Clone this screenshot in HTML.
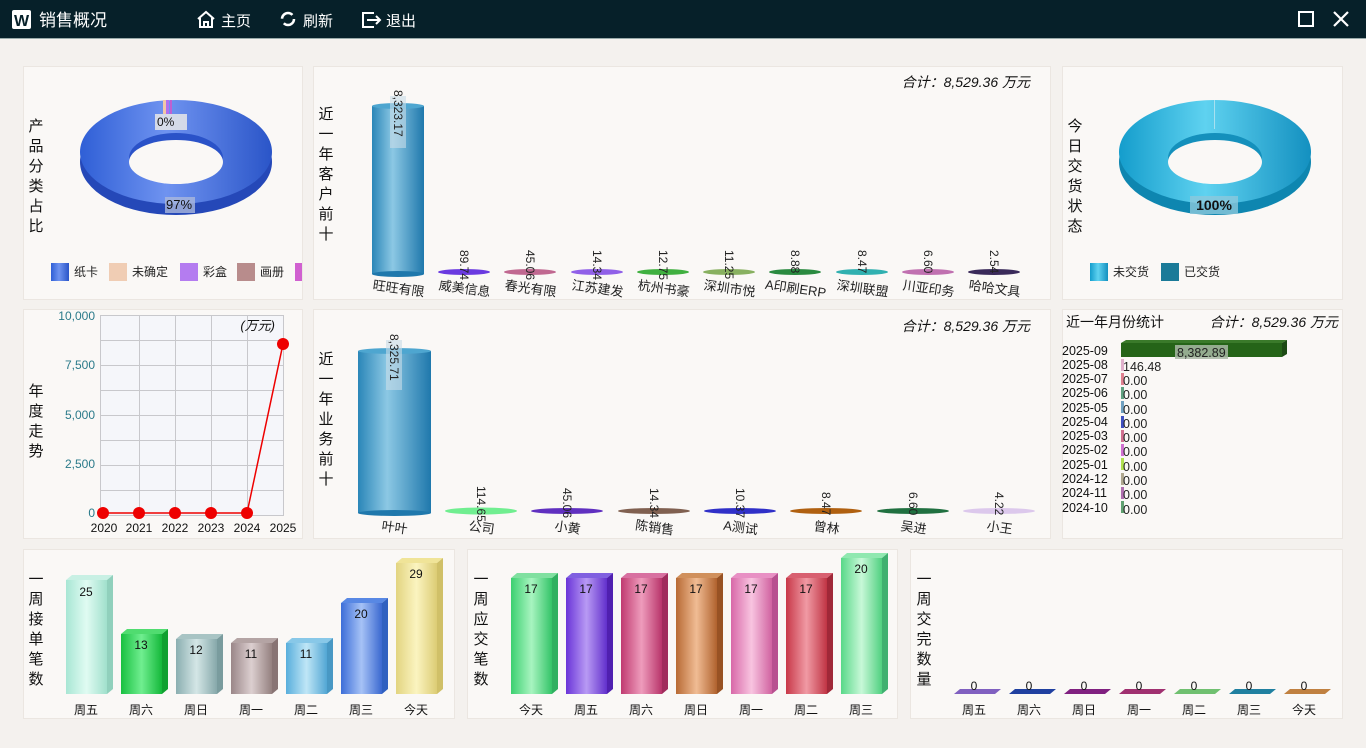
<!DOCTYPE html>
<html><head><meta charset="utf-8"><style>
html,body{margin:0;padding:0;width:1366px;height:748px;overflow:hidden;background:#f4f1ee;}
svg{display:block;font-family:"Liberation Sans","Noto Sans CJK SC",sans-serif;}
</style></head><body>
<svg width="1366" height="748" viewBox="0 0 1366 748">
<defs>
<linearGradient id="blue" x1="0" x2="1"><stop offset="0" stop-color="#2f5fd6"/><stop offset="0.45" stop-color="#6f93f0"/><stop offset="1" stop-color="#2a55c8"/></linearGradient>
<linearGradient id="cyan" x1="0" x2="1"><stop offset="0" stop-color="#149dcc"/><stop offset="0.45" stop-color="#5fd2f0"/><stop offset="1" stop-color="#1390c0"/></linearGradient>
<linearGradient id="cyl" x1="0" x2="1"><stop offset="0" stop-color="#2a86b8"/><stop offset="0.4" stop-color="#8cc8e4"/><stop offset="1" stop-color="#1f78ac"/></linearGradient>
<linearGradient id="g1" x1="0" x2="1"><stop offset="0" stop-color="#a8e6d4"/><stop offset=".5" stop-color="#e0fbf2"/><stop offset="1" stop-color="#a0e0cc"/></linearGradient>
<linearGradient id="g2" x1="0" x2="1"><stop offset="0" stop-color="#18c040"/><stop offset=".5" stop-color="#70ee90"/><stop offset="1" stop-color="#14b83a"/></linearGradient>
<linearGradient id="g3" x1="0" x2="1"><stop offset="0" stop-color="#8aaeb0"/><stop offset=".5" stop-color="#d4e6e6"/><stop offset="1" stop-color="#86a8aa"/></linearGradient>
<linearGradient id="g4" x1="0" x2="1"><stop offset="0" stop-color="#9a8688"/><stop offset=".5" stop-color="#dccfd0"/><stop offset="1" stop-color="#94807f"/></linearGradient>
<linearGradient id="g5" x1="0" x2="1"><stop offset="0" stop-color="#58aedc"/><stop offset=".5" stop-color="#bfe6f6"/><stop offset="1" stop-color="#52a6d4"/></linearGradient>
<linearGradient id="g6" x1="0" x2="1"><stop offset="0" stop-color="#3c6ed8"/><stop offset=".5" stop-color="#a6c2f6"/><stop offset="1" stop-color="#3a68d0"/></linearGradient>
<linearGradient id="g7" x1="0" x2="1"><stop offset="0" stop-color="#e2d480"/><stop offset=".5" stop-color="#fbf4c0"/><stop offset="1" stop-color="#dccc74"/></linearGradient>
<linearGradient id="h1" x1="0" x2="1"><stop offset="0" stop-color="#3cd070"/><stop offset=".5" stop-color="#a8f4c0"/><stop offset="1" stop-color="#34c468"/></linearGradient>
<linearGradient id="h2" x1="0" x2="1"><stop offset="0" stop-color="#6a34d8"/><stop offset=".5" stop-color="#b89af4"/><stop offset="1" stop-color="#6230cc"/></linearGradient>
<linearGradient id="h3" x1="0" x2="1"><stop offset="0" stop-color="#c03a70"/><stop offset=".5" stop-color="#ee9cbc"/><stop offset="1" stop-color="#b8346a"/></linearGradient>
<linearGradient id="h4" x1="0" x2="1"><stop offset="0" stop-color="#b86a34"/><stop offset=".5" stop-color="#f0bc94"/><stop offset="1" stop-color="#b0622e"/></linearGradient>
<linearGradient id="h5" x1="0" x2="1"><stop offset="0" stop-color="#d868a8"/><stop offset=".5" stop-color="#f8c4e0"/><stop offset="1" stop-color="#d062a0"/></linearGradient>
<linearGradient id="h6" x1="0" x2="1"><stop offset="0" stop-color="#c83848"/><stop offset=".5" stop-color="#f09aa4"/><stop offset="1" stop-color="#c03444"/></linearGradient>
<linearGradient id="h7" x1="0" x2="1"><stop offset="0" stop-color="#58d888"/><stop offset=".5" stop-color="#c8f8d8"/><stop offset="1" stop-color="#50d080"/></linearGradient>
</defs>
<!-- header -->
<rect x="0" y="0" width="1366" height="38" fill="#062029"/>
<rect x="0" y="38" width="1366" height="1" fill="#9aa"/>
<rect x="12" y="10" width="19" height="19" fill="#fff" rx="2"/><text x="21.5" y="26" font-size="16" font-weight="bold" text-anchor="middle" fill="#062029">W</text>
<text x="39" y="26" font-size="17" fill="#fff">销售概况</text>
<path d="M198 19 L206 12 L214 19 M200 18 V27 H212 V18 M204 27 V22 H208 V27" stroke="#fff" stroke-width="2" fill="none"/>
<text x="221" y="26" font-size="15" fill="#fff">主页</text>
<circle cx="288" cy="19" r="6" stroke="#fff" stroke-width="2.5" fill="none" stroke-dasharray="14 5"/>
<text x="303" y="26" font-size="15" fill="#fff">刷新</text>
<path d="M374 13 H363 V27 H374 M367 20 H380 M376 16 L380 20 L376 24" stroke="#fff" stroke-width="2" fill="none"/>
<text x="386" y="26" font-size="15" fill="#fff">退出</text>
<rect x="1299" y="12" width="14" height="14" stroke="#fff" stroke-width="2" fill="none"/>
<path d="M1334 12 L1348 26 M1348 12 L1334 26" stroke="#fff" stroke-width="2.2"/>

<!-- panels -->
<g fill="#faf8f6" stroke="#ebe6e1">
<rect x="23.5" y="66.5" width="279" height="233"/><rect x="313.5" y="66.5" width="737" height="233"/><rect x="1062.5" y="66.5" width="280" height="233"/>
<rect x="23.5" y="309.5" width="279" height="229"/><rect x="313.5" y="309.5" width="737" height="229"/><rect x="1062.5" y="309.5" width="280" height="229"/>
<rect x="23.5" y="549.5" width="431" height="169"/><rect x="467.5" y="549.5" width="430" height="169"/><rect x="910.5" y="549.5" width="432" height="169"/>
</g>

<!-- vertical titles -->
<g font-size="15" fill="#111" text-anchor="middle">
<text x="36" y="131">产</text><text x="36" y="151">品</text><text x="36" y="171">分</text><text x="36" y="191">类</text><text x="36" y="211">占</text><text x="36" y="231">比</text>
<text x="326" y="119">近</text><text x="326" y="139">一</text><text x="326" y="159">年</text><text x="326" y="179">客</text><text x="326" y="199">户</text><text x="326" y="219">前</text><text x="326" y="239">十</text>
<text x="1075" y="131">今</text><text x="1075" y="151">日</text><text x="1075" y="171">交</text><text x="1075" y="191">货</text><text x="1075" y="211">状</text><text x="1075" y="231">态</text>
<text x="36" y="396">年</text><text x="36" y="416">度</text><text x="36" y="436">走</text><text x="36" y="456">势</text>
<text x="326" y="364">近</text><text x="326" y="384">一</text><text x="326" y="404">年</text><text x="326" y="424">业</text><text x="326" y="444">务</text><text x="326" y="464">前</text><text x="326" y="484">十</text>
<text x="36" y="584">一</text><text x="36" y="604">周</text><text x="36" y="624">接</text><text x="36" y="644">单</text><text x="36" y="664">笔</text><text x="36" y="684">数</text>
<text x="481" y="584">一</text><text x="481" y="604">周</text><text x="481" y="624">应</text><text x="481" y="644">交</text><text x="481" y="664">笔</text><text x="481" y="684">数</text>
<text x="924" y="584">一</text><text x="924" y="604">周</text><text x="924" y="624">交</text><text x="924" y="644">完</text><text x="924" y="664">数</text><text x="924" y="684">量</text>
</g>

<!-- donut 1 -->
<ellipse cx="176" cy="162" rx="96" ry="53" fill="#2548b8"/>
<ellipse cx="176" cy="152" rx="96" ry="52" fill="url(#blue)"/>
<ellipse cx="176" cy="158" rx="47" ry="25" fill="#2a52c8"/>
<ellipse cx="176" cy="162" rx="47" ry="22" fill="#faf8f6"/>
<rect x="163" y="100" width="3" height="14" fill="#f0c8a8"/><rect x="166" y="100" width="3" height="14" fill="#b070f0"/><rect x="170" y="100" width="2" height="14" fill="#c060d0"/>
<rect x="155" y="114" width="32" height="16" fill="#e8e8e8" opacity=".85"/>
<text x="157" y="126" font-size="12" fill="#111">0%</text>
<rect x="165" y="197" width="30" height="16" fill="#aab8dc" opacity=".8"/>
<text x="166" y="209" font-size="13" fill="#111">97%</text>
<g font-size="12" fill="#222">
<rect x="51" y="263" width="18" height="18" fill="url(#blue)"/><text x="74" y="276">纸卡</text>
<rect x="109" y="263" width="18" height="18" fill="#f0cdb4"/><text x="132" y="276">未确定</text>
<rect x="180" y="263" width="18" height="18" fill="#b47cf0"/><text x="203" y="276">彩盒</text>
<rect x="237" y="263" width="18" height="18" fill="#b88c8c"/><text x="260" y="276">画册</text>
<rect x="295" y="263" width="7" height="18" fill="#d060d0"/>
</g>

<!-- donut 3 -->
<ellipse cx="1215" cy="162" rx="96" ry="53" fill="#0e86b0"/>
<ellipse cx="1215" cy="152" rx="96" ry="52" fill="url(#cyan)"/>
<ellipse cx="1215" cy="158" rx="47" ry="25" fill="#1490bc"/>
<ellipse cx="1215" cy="162" rx="47" ry="22" fill="#faf8f6"/>
<rect x="1214" y="100" width="1" height="29" fill="#a8e0f0"/>
<rect x="1190" y="196" width="48" height="18" fill="#8cc8dc" opacity=".8"/>
<text x="1214" y="210" font-size="14" font-weight="bold" text-anchor="middle" fill="#111">100%</text>
<g font-size="12" fill="#222">
<rect x="1090" y="263" width="18" height="18" fill="url(#cyan)"/><text x="1113" y="276">未交货</text>
<rect x="1161" y="263" width="18" height="18" fill="#1a7a98"/><text x="1184" y="276">已交货</text>
</g>

<!-- panel 2 -->
<text x="1030" y="87" font-size="14" font-style="italic" text-anchor="end" fill="#111">合计：8,529.36 万元</text>
<rect x="372" y="106" width="52" height="168" fill="url(#cyl)"/>
<ellipse cx="398" cy="274" rx="26" ry="3" fill="#1f78ac"/><ellipse cx="398" cy="106" rx="26" ry="3" fill="#4ea6d0"/>
<rect x="390" y="96" width="16" height="52" fill="#c8dce8" opacity=".6"/>
<text transform="translate(394,90) rotate(90)" font-size="12" fill="#222">8,323.17</text>
<g>
<ellipse cx="464" cy="272" rx="26" ry="3" fill="#6a3ae0"/>
<ellipse cx="530" cy="272" rx="26" ry="3" fill="#c06890"/>
<ellipse cx="597" cy="272" rx="26" ry="3" fill="#9060e8"/>
<ellipse cx="663" cy="272" rx="26" ry="3" fill="#40b040"/>
<ellipse cx="729" cy="272" rx="26" ry="3" fill="#88b060"/>
<ellipse cx="795" cy="272" rx="26" ry="3" fill="#2a8a40"/>
<ellipse cx="862" cy="272" rx="26" ry="3" fill="#30b0b0"/>
<ellipse cx="928" cy="272" rx="26" ry="3" fill="#c070b0"/>
<ellipse cx="994" cy="272" rx="26" ry="3" fill="#3a2a5a"/>
</g>
<g font-size="12" fill="#222">
<text transform="translate(460,250) rotate(90)">89.74</text>
<text transform="translate(526,250) rotate(90)">45.06</text>
<text transform="translate(593,250) rotate(90)">14.34</text>
<text transform="translate(659,250) rotate(90)">12.75</text>
<text transform="translate(725,250) rotate(90)">11.25</text>
<text transform="translate(791,250) rotate(90)">8.88</text>
<text transform="translate(858,250) rotate(90)">8.47</text>
<text transform="translate(924,250) rotate(90)">6.60</text>
<text transform="translate(990,250) rotate(90)">2.54</text>
</g>
<g font-size="13" fill="#222" text-anchor="middle">
<text transform="translate(398,293) rotate(8)">旺旺有限</text>
<text transform="translate(464,293) rotate(8)">威美信息</text>
<text transform="translate(530,293) rotate(8)">春光有限</text>
<text transform="translate(597,293) rotate(8)">江苏建发</text>
<text transform="translate(663,293) rotate(8)">杭州书豪</text>
<text transform="translate(729,293) rotate(8)">深圳市悦</text>
<text transform="translate(795,293) rotate(8)">A印刷ERP</text>
<text transform="translate(862,293) rotate(8)">深圳联盟</text>
<text transform="translate(928,293) rotate(8)">川亚印务</text>
<text transform="translate(994,293) rotate(8)">哈哈文具</text>
</g>

<!-- panel 5 -->
<text x="1030" y="331" font-size="14" font-style="italic" text-anchor="end" fill="#111">合计：8,529.36 万元</text>
<rect x="358" y="351" width="73" height="162" fill="url(#cyl)"/>
<ellipse cx="394.5" cy="513" rx="36.5" ry="3" fill="#1f78ac"/><ellipse cx="394.5" cy="351" rx="36.5" ry="3" fill="#4ea6d0"/>
<rect x="386" y="340" width="16" height="50" fill="#c8dce8" opacity=".6"/>
<text transform="translate(390,334) rotate(90)" font-size="12" fill="#222">8,325.71</text>
<ellipse cx="481" cy="511" rx="36" ry="3.5" fill="#70ee90"/>
<ellipse cx="567" cy="511" rx="36" ry="3" fill="#6030c0"/>
<ellipse cx="654" cy="511" rx="36" ry="3" fill="#806050"/>
<ellipse cx="740" cy="511" rx="36" ry="3" fill="#3030c8"/>
<ellipse cx="826" cy="511" rx="36" ry="3" fill="#b06010"/>
<ellipse cx="913" cy="511" rx="36" ry="3" fill="#207040"/>
<ellipse cx="999" cy="511" rx="36" ry="3" fill="#dcc8ec"/>
<g font-size="12" fill="#222">
<text transform="translate(477,486) rotate(90)">114.65</text>
<text transform="translate(563,488) rotate(90)">45.06</text>
<text transform="translate(650,488) rotate(90)">14.34</text>
<text transform="translate(736,488) rotate(90)">10.37</text>
<text transform="translate(822,492) rotate(90)">8.47</text>
<text transform="translate(909,492) rotate(90)">6.60</text>
<text transform="translate(995,492) rotate(90)">4.22</text>
</g>
<g font-size="13" fill="#222" text-anchor="middle">
<text transform="translate(394,532) rotate(8)">叶叶</text>
<text transform="translate(481,532) rotate(8)">公司</text>
<text transform="translate(567,532) rotate(8)">小黄</text>
<text transform="translate(654,532) rotate(8)">陈销售</text>
<text transform="translate(740,532) rotate(8)">A测试</text>
<text transform="translate(826,532) rotate(8)">曾林</text>
<text transform="translate(913,532) rotate(8)">吴进</text>
<text transform="translate(999,532) rotate(8)">小王</text>
</g>

<!-- line chart -->
<rect x="100" y="315" width="184" height="200" fill="#f5f6fa"/>
<g stroke="#c8c8cc" stroke-width="1">
<path d="M100 315.5H284M100 340.5H284M100 365.5H284M100 390.5H284M100 415.5H284M100 440.5H284M100 465.5H284M100 490.5H284M100 515.5H284"/>
<path d="M100.5 315V515M139.5 315V515M175.5 315V515M211.5 315V515M247.5 315V515M283.5 315V515"/>
</g>
<g font-size="12" fill="#2a7a8a" text-anchor="end">
<text x="95" y="320">10,000</text><text x="95" y="369">7,500</text><text x="95" y="419">5,000</text><text x="95" y="468">2,500</text><text x="95" y="517">0</text>
</g>
<g font-size="12" fill="#111" text-anchor="middle">
<text x="104" y="532">2020</text><text x="139" y="532">2021</text><text x="175" y="532">2022</text><text x="211" y="532">2023</text><text x="247" y="532">2024</text><text x="283" y="532">2025</text>
</g>
<text x="275" y="330" font-size="13" font-style="italic" text-anchor="end" fill="#111">(万元)</text>
<polyline points="103,513 139,513 175,513 211,513 247,513 283,344" fill="none" stroke="#e00" stroke-width="1.5"/>
<g fill="#e00"><circle cx="103" cy="513" r="6"/><circle cx="139" cy="513" r="6"/><circle cx="175" cy="513" r="6"/><circle cx="211" cy="513" r="6"/><circle cx="247" cy="513" r="6"/><circle cx="283" cy="344" r="6"/></g>

<!-- monthly -->
<text x="1066" y="327" font-size="14" fill="#111">近一年月份统计</text>
<text x="1338" y="327" font-size="14" font-style="italic" text-anchor="end" fill="#111">合计：8,529.36 万元</text>
<g font-size="12.5" fill="#111">
<text x="1062" y="355">2025-09</text><text x="1062" y="369">2025-08</text><text x="1062" y="383">2025-07</text><text x="1062" y="397">2025-06</text><text x="1062" y="412">2025-05</text><text x="1062" y="426">2025-04</text><text x="1062" y="440">2025-03</text><text x="1062" y="454">2025-02</text><text x="1062" y="469">2025-01</text><text x="1062" y="483">2024-12</text><text x="1062" y="497">2024-11</text><text x="1062" y="512">2024-10</text>
</g>
<polygon points="1121,343 1126,340 1287,340 1282,343" fill="#3a7a2a"/>
<polygon points="1282,343 1287,340 1287,354 1282,357" fill="#1c4a14"/>
<rect x="1121" y="343" width="161" height="14" fill="#256418"/>
<rect x="1175" y="345" width="53" height="14" fill="#a8b8a4" opacity=".85"/>
<text x="1177" y="357" font-size="12.5" fill="#222">8,382.89</text>
<g>
<rect x="1121" y="359" width="3" height="12" fill="#e0b0cc"/><rect x="1121" y="373" width="3" height="12" fill="#e08090"/><rect x="1121" y="387" width="3" height="12" fill="#60a080"/><rect x="1121" y="401" width="3" height="12" fill="#70a0c0"/><rect x="1121" y="416" width="3" height="12" fill="#4050c0"/><rect x="1121" y="430" width="3" height="12" fill="#d07090"/><rect x="1121" y="444" width="3" height="12" fill="#d070d0"/><rect x="1121" y="458" width="3" height="12" fill="#b0e050"/><rect x="1121" y="473" width="3" height="12" fill="#b0a890"/><rect x="1121" y="487" width="3" height="12" fill="#b070b0"/><rect x="1121" y="501" width="3" height="12" fill="#60a070"/>
</g>
<g font-size="12.5" fill="#222">
<text x="1123" y="371">146.48</text><text x="1123" y="385">0.00</text><text x="1123" y="399">0.00</text><text x="1123" y="414">0.00</text><text x="1123" y="428">0.00</text><text x="1123" y="442">0.00</text><text x="1123" y="456">0.00</text><text x="1123" y="471">0.00</text><text x="1123" y="485">0.00</text><text x="1123" y="499">0.00</text><text x="1123" y="514">0.00</text>
</g>

<!-- weekly bars 1 -->
<g>
<rect x="66" y="580" width="41" height="114" fill="url(#g1)"/><polygon points="66,580 72,575 113,575 107,580" fill="#c8f0e4"/><polygon points="107,580 113,575 113,689 107,694" fill="#90d0bc"/>
<rect x="121" y="634" width="41" height="60" fill="url(#g2)"/><polygon points="121,634 127,629 168,629 162,634" fill="#50dc70"/><polygon points="162,634 168,629 168,689 162,694" fill="#10a030"/>
<rect x="176" y="639" width="41" height="55" fill="url(#g3)"/><polygon points="176,639 182,634 223,634 217,639" fill="#a8c4c4"/><polygon points="217,639 223,634 223,689 217,694" fill="#7a9c9e"/>
<rect x="231" y="643" width="41" height="51" fill="url(#g4)"/><polygon points="231,643 237,638 278,638 272,643" fill="#b4a4a4"/><polygon points="272,643 278,638 278,689 272,694" fill="#887474"/>
<rect x="286" y="643" width="41" height="51" fill="url(#g5)"/><polygon points="286,643 292,638 333,638 327,643" fill="#88c8e8"/><polygon points="327,643 333,638 333,689 327,694" fill="#4898c4"/>
<rect x="341" y="603" width="41" height="91" fill="url(#g6)"/><polygon points="341,603 347,598 388,598 382,603" fill="#5888e4"/><polygon points="382,603 388,598 388,689 382,694" fill="#3060c0"/>
<rect x="396" y="563" width="41" height="131" fill="url(#g7)"/><polygon points="396,563 402,558 443,558 437,563" fill="#f0e498"/><polygon points="437,563 443,558 443,689 437,694" fill="#d0c068"/>
</g>
<g font-size="12" fill="#111" text-anchor="middle">
<text x="86" y="596">25</text><text x="141" y="649">13</text><text x="196" y="654">12</text><text x="251" y="658">11</text><text x="306" y="658">11</text><text x="361" y="618">20</text><text x="416" y="578">29</text>
<text x="86" y="714">周五</text><text x="141" y="714">周六</text><text x="196" y="714">周日</text><text x="251" y="714">周一</text><text x="306" y="714">周二</text><text x="361" y="714">周三</text><text x="416" y="714">今天</text>
</g>

<!-- weekly bars 2 -->
<g>
<rect x="511" y="578" width="41" height="116" fill="url(#h1)"/><polygon points="511,578 517,573 558,573 552,578" fill="#80e0a0"/><polygon points="552,578 558,573 558,689 552,694" fill="#30b060"/>
<rect x="566" y="578" width="41" height="116" fill="url(#h2)"/><polygon points="566,578 572,573 613,573 607,578" fill="#8060e0"/><polygon points="607,578 613,573 613,689 607,694" fill="#5020b0"/>
<rect x="621" y="578" width="41" height="116" fill="url(#h3)"/><polygon points="621,578 627,573 668,573 662,578" fill="#d870a0"/><polygon points="662,578 668,573 668,689 662,694" fill="#a02c5c"/>
<rect x="676" y="578" width="41" height="116" fill="url(#h4)"/><polygon points="676,578 682,573 723,573 717,578" fill="#d0905c"/><polygon points="717,578 723,573 723,689 717,694" fill="#985224"/>
<rect x="731" y="578" width="41" height="116" fill="url(#h5)"/><polygon points="731,578 737,573 778,573 772,578" fill="#e890c4"/><polygon points="772,578 778,573 778,689 772,694" fill="#b85090"/>
<rect x="786" y="578" width="41" height="116" fill="url(#h6)"/><polygon points="786,578 792,573 833,573 827,578" fill="#d86070"/><polygon points="827,578 833,573 833,689 827,694" fill="#a02838"/>
<rect x="841" y="558" width="41" height="136" fill="url(#h7)"/><polygon points="841,558 847,553 888,553 882,558" fill="#90e8b0"/><polygon points="882,558 888,553 888,689 882,694" fill="#40b070"/>
</g>
<g font-size="12" fill="#111" text-anchor="middle">
<text x="531" y="593">17</text><text x="586" y="593">17</text><text x="641" y="593">17</text><text x="696" y="593">17</text><text x="751" y="593">17</text><text x="806" y="593">17</text><text x="861" y="573">20</text>
<text x="531" y="714">今天</text><text x="586" y="714">周五</text><text x="641" y="714">周六</text><text x="696" y="714">周日</text><text x="751" y="714">周一</text><text x="806" y="714">周二</text><text x="861" y="714">周三</text>
</g>

<!-- weekly bars 3 -->
<g>
<polygon points="954,694 960,689 1001,689 995,694" fill="#8060c0"/>
<polygon points="1009,694 1015,689 1056,689 1050,694" fill="#2040a0"/>
<polygon points="1064,694 1070,689 1111,689 1105,694" fill="#802080"/>
<polygon points="1119,694 1125,689 1166,689 1160,694" fill="#a03070"/>
<polygon points="1174,694 1180,689 1221,689 1215,694" fill="#70c070"/>
<polygon points="1229,694 1235,689 1276,689 1270,694" fill="#2080a0"/>
<polygon points="1284,694 1290,689 1331,689 1325,694" fill="#c08040"/>
</g>
<g font-size="12" fill="#111" text-anchor="middle">
<text x="974" y="690">0</text><text x="1029" y="690">0</text><text x="1084" y="690">0</text><text x="1139" y="690">0</text><text x="1194" y="690">0</text><text x="1249" y="690">0</text><text x="1304" y="690">0</text>
<text x="974" y="714">周五</text><text x="1029" y="714">周六</text><text x="1084" y="714">周日</text><text x="1139" y="714">周一</text><text x="1194" y="714">周二</text><text x="1249" y="714">周三</text><text x="1304" y="714">今天</text>
</g>
</svg>
</body></html>
